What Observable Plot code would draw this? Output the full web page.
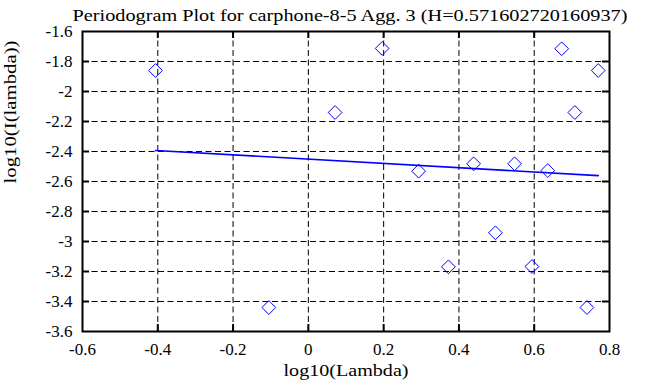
<!DOCTYPE html>
<html>
<head>
<meta charset="utf-8">
<script src="https://cdn.jsdelivr.net/npm/d3@7"></script>
<script src="https://cdn.jsdelivr.net/npm/@observablehq/plot@0.6"></script>
<style>
  html, body { margin: 0; padding: 0; background: #fff; }
  svg { display: block; }
</style>
</head>
<body>
<div id="chart"></div>
<script>
// log10 of frequency (lambda) and log10 of periodogram value I(lambda)
const lambdaLog = [-0.406, -0.105, 0.071, 0.196, 0.293, 0.372, 0.439, 0.497, 0.548, 0.594, 0.636, 0.673, 0.708, 0.740, 0.770];
const periodLog = [-1.860, -3.440, -2.140, -1.713, -2.531, -3.169, -2.482, -2.942, -2.482, -3.167, -2.527, -1.715, -2.140, -3.440, -1.860];
// least-squares fit line endpoints
const fitX = [-0.406, 0.770];
const fitY = [-2.393, -2.561];
// axis ticks
const xTicks = [-0.6, -0.4, -0.2, 0, 0.2, 0.4, 0.6, 0.8];
const yTicks = [-1.6, -1.8, -2, -2.2, -2.4, -2.6, -2.8, -3, -3.2, -3.4, -3.6];
const titleText = "Periodogram Plot for carphone-8-5 Agg. 3 (H=0.571602720160937)";
const xLabel = "log10(Lambda)";
const yLabel = "log10(I(lambda))";

const points = lambdaLog.map((x, i) => ({x, y: periodLog[i]}));
const fit = fitX.map((x, i) => ({x, y: fitY[i]}));
const fmt = d => String(Math.round(d * 10) / 10);
const xInner = xTicks.slice(1, -1);
const yInner = yTicks.slice(1, -1);
const font = "Liberation Serif";

const chart = Plot.plot({
  width: 663,
  height: 387,
  marginLeft: 82,
  marginRight: 54,
  marginTop: 31,
  marginBottom: 56,
  style: {fontFamily: font, fontSize: "17px", background: "#fff", color: "black"},
  x: {domain: [-0.6, 0.8], ticks: xTicks},
  y: {domain: [-3.6, -1.6], ticks: yTicks},
  marks: [
    Plot.gridX(xInner, {stroke: "black", strokeOpacity: 1, strokeWidth: 1, strokeDasharray: "6,3.5"}),
    Plot.gridY(yInner, {stroke: "black", strokeOpacity: 1, strokeWidth: 1, strokeDasharray: "6,3.5"}),
    // inward ticks on all four sides
    Plot.tickX(xInner, {x: d => d, stroke: "black", strokeWidth: 2, insetTop: 293}),
    Plot.tickX(xInner, {x: d => d, stroke: "black", strokeWidth: 2, insetBottom: 293}),
    Plot.tickY(yInner, {y: d => d, stroke: "black", strokeWidth: 2, insetRight: 520}),
    Plot.tickY(yInner, {y: d => d, stroke: "black", strokeWidth: 2, insetLeft: 520}),
    Plot.axisX(xTicks, {tickSize: 0, tickPadding: 11, tickFormat: fmt, fontSize: 17, fill: "black", label: null}),
    Plot.axisY(yTicks, {tickSize: 0, tickPadding: 10, tickFormat: fmt, fontSize: 17, fill: "black", label: null}),
    Plot.frame({stroke: "black", strokeWidth: 2}),
    Plot.line(fit, {x: "x", y: "y", stroke: "#0000ff", strokeWidth: 1.6}),
    Plot.dot(points, {x: "x", y: "y", symbol: "diamond2", r: 6.2, stroke: "#0000ff", strokeWidth: 1, fill: "none"}),
    Plot.text([titleText], {frameAnchor: "top", dx: 4, dy: -22, fontSize: 16.5, fill: "black"}),
    Plot.text([xLabel], {frameAnchor: "bottom", dy: 44, fontSize: 16.5, fill: "black"}),
    Plot.text([yLabel], {frameAnchor: "left", dx: -72, dy: 2, rotate: -90, fontSize: 16.5, fill: "black"})
  ]
});
document.getElementById("chart").appendChild(chart);

// serif font on every text; the reference font is wider than Times, so stretch the label texts
const stretch = {[titleText]: 555, [xLabel]: 125, [yLabel]: 143};
d3.select(chart).selectAll("text, tspan").each(function() {
  this.style.setProperty("font-family", "'Liberation Serif', serif", "important");
  this.style.setProperty("font-variant", "normal", "important");
  const len = stretch[this.textContent];
  if (len && this.tagName === "text") {
    this.setAttribute("textLength", len);
    this.setAttribute("lengthAdjust", "spacingAndGlyphs");
  }
});
d3.select(chart).selectAll("g").each(function() {
  if (this.getAttribute("font-family")) this.setAttribute("font-family", "Liberation Serif");
});
</script>
</body>
</html>
